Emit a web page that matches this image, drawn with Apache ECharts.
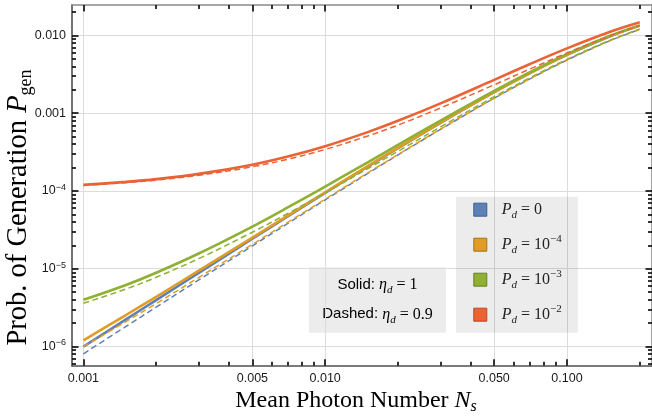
<!DOCTYPE html>
<html><head><meta charset="utf-8">
<script src="https://cdn.jsdelivr.net/npm/echarts@6/dist/echarts.min.js"></script>
<style>html,body{margin:0;padding:0;background:#fff}#c{width:652px;height:418px}</style>
</head><body><div id="c"></div>
<script>
// ---- data ----
const xN = [0.001, 0.0015, 0.002, 0.003, 0.005, 0.007, 0.01, 0.015, 0.02, 0.03, 0.05, 0.07, 0.1, 0.15, 0.2];
const blueSolid   = [9.94e-7, 2.23e-6, 3.95e-6, 8.84e-6, 2.43e-5, 4.70e-5, 9.42e-5, 2.06e-4, 3.55e-4, 7.54e-4, 1.87e-3, 3.27e-3, 5.64e-3, 9.73e-3, 1.34e-2];
const blueDashed  = [8.06e-7, 1.81e-6, 3.21e-6, 7.17e-6, 1.97e-5, 3.82e-5, 7.68e-5, 1.68e-4, 2.91e-4, 6.21e-4, 1.56e-3, 2.75e-3, 4.83e-3, 8.53e-3, 1.20e-2];
const orangeSolid = [1.20e-6, 2.54e-6, 4.36e-6, 9.44e-6, 2.52e-5, 4.83e-5, 9.61e-5, 2.09e-4, 3.59e-4, 7.59e-4, 1.87e-3, 3.27e-3, 5.66e-3, 9.74e-3, 1.34e-2];
const orangeDashed= [9.95e-7, 2.09e-6, 3.57e-6, 7.71e-6, 2.06e-5, 3.95e-5, 7.85e-5, 1.71e-4, 2.94e-4, 6.26e-4, 1.56e-3, 2.76e-3, 4.84e-3, 8.54e-3, 1.20e-2];
const greenSolid  = [3.98e-6, 6.19e-6, 8.89e-6, 1.57e-5, 3.49e-5, 6.14e-5, 1.14e-4, 2.34e-4, 3.92e-4, 8.05e-4, 1.94e-3, 3.36e-3, 5.76e-3, 9.86e-3, 1.35e-2];
const greenDashed = [3.59e-6, 5.48e-6, 7.76e-6, 1.35e-5, 2.95e-5, 5.13e-5, 9.48e-5, 1.94e-4, 3.24e-4, 6.68e-4, 1.63e-3, 2.84e-3, 4.94e-3, 8.65e-3, 1.21e-2];
const redSolid    = [1.20e-4, 1.31e-4, 1.42e-4, 1.66e-4, 2.18e-4, 2.77e-4, 3.77e-4, 5.72e-4, 7.99e-4, 1.34e-3, 2.69e-3, 4.27e-3, 6.83e-3, 1.11e-2, 1.48e-2];
const redDashed   = [1.18e-4, 1.28e-4, 1.38e-4, 1.59e-4, 2.05e-4, 2.56e-4, 3.42e-4, 5.10e-4, 7.04e-4, 1.17e-3, 2.32e-3, 3.69e-3, 5.96e-3, 9.84e-3, 1.34e-2];

const xMajor = [0.001, 0.005, 0.01, 0.05, 0.1];
const xMinor = [0.002, 0.003, 0.004, 0.006, 0.007, 0.008, 0.009, 0.02, 0.03, 0.04, 0.06, 0.07, 0.08, 0.09, 0.2];
const yMajor = [1e-6, 1e-5, 1e-4, 1e-3, 1e-2];
const yMinor = [6e-7, 7e-7, 8e-7, 9e-7,
  2e-6, 3e-6, 4e-6, 5e-6, 6e-6, 7e-6, 8e-6, 9e-6,
  2e-5, 3e-5, 4e-5, 5e-5, 6e-5, 7e-5, 8e-5, 9e-5,
  2e-4, 3e-4, 4e-4, 5e-4, 6e-4, 7e-4, 8e-4, 9e-4,
  2e-3, 3e-3, 4e-3, 5e-3, 6e-3, 7e-3, 8e-3, 9e-3, 2e-2];
const legendNames = ['Pd = 0', 'Pd = 1e-4', 'Pd = 1e-3', 'Pd = 1e-2'];
const legendExp = ['', '−4', '−3', '−2'];

const X_MIN = 8.97e-4, X_MAX = 0.2248, Y_MIN = 5.66e-7, Y_MAX = 0.02468;
const COLORS = ['#5E81B5', '#E09C24', '#8FB032', '#EB6235'];
const BORDERS = ['#3d5f93', '#a5721a', '#67822a', '#b5462a'];

const chart = echarts.init(document.getElementById('c'), null, {renderer: 'canvas'});
const SANS = 'Liberation Sans';
const SERIF = 'Liberation Serif';
const gridRect = {left: 72, top: 5, right: -3, bottom: 52.3, containLabel: false};

function xAxisDef(grid, pos, major, showLine, labels, split) {
  return {
    gridIndex: grid, type: 'log', logBase: 10, position: pos, min: X_MIN, max: X_MAX,
    axisLine: {show: showLine, onZero: false, lineStyle: {color: pos === 'bottom' ? '#505050' : '#8a8a8a', width: 1.6}},
    axisTick: {show: true, inside: true, length: major ? 6.5 : 4, customValues: major ? xMajor : xMinor,
      lineStyle: {color: '#111', width: 1.7}},
    axisLabel: labels ? {show: true, customValues: xMajor, margin: 6, color: '#1a1a1a', fontFamily: SANS, fontSize: 12.5,
      formatter: v => Number(v).toFixed(3)} : {show: false},
    splitLine: {show: split, lineStyle: {color: '#dcdcdc', width: 1}},
    minorTick: {show: false}, minorSplitLine: {show: false}
  };
}
function yAxisDef(grid, pos, major, showLine, labels, split) {
  return {
    gridIndex: grid, type: 'log', logBase: 10, position: pos, min: Y_MIN, max: Y_MAX,
    axisLine: {show: showLine, onZero: false, lineStyle: {color: pos === 'left' ? '#505050' : '#8a8a8a', width: 1.6}},
    axisTick: {show: true, inside: true, length: major ? 6.5 : 4, customValues: major ? yMajor : yMinor,
      lineStyle: {color: '#111', width: 1.7}},
    axisLabel: labels ? {show: true, customValues: yMajor, margin: 6, color: '#1a1a1a', fontFamily: SANS, fontSize: 12.5,
      formatter: v => {
        const e = Math.round(Math.log10(v));
        if (e >= -3) return Number(v).toFixed(3);
        return '{b|10}{s|−' + (-e) + '}';
      },
      rich: {b: {fontFamily: SANS, fontSize: 12.5, lineHeight: 16, color: '#1a1a1a'},
             s: {fontFamily: SANS, fontSize: 9, lineHeight: 9, verticalAlign: 'top', color: '#1a1a1a'}}} : {show: false},
    splitLine: {show: split, lineStyle: {color: '#dcdcdc', width: 1}},
    minorTick: {show: false}, minorSplitLine: {show: false}
  };
}

function pairs(ys) { return xN.map((x, i) => [x, ys[i]]); }
const seriesDefs = [
  [legendNames[0], blueSolid, 0, false],
  [legendNames[1], orangeSolid, 1, false],
  [legendNames[2], greenSolid, 2, false],
  [legendNames[3], redSolid, 3, false],
  ['dash0', blueDashed, 0, true],
  ['dash1', orangeDashed, 1, true],
  ['dash2', greenDashed, 2, true],
  ['dash3', redDashed, 3, true]
];
const series = seriesDefs.map(([name, ys, ci, dashed], k) => ({
  type: 'line', name: name, xAxisIndex: 0, yAxisIndex: 0, data: pairs(ys),
  showSymbol: false, symbol: 'none', smooth: 0.35, silent: true, z: 2 + k * 0.01,
  itemStyle: {color: COLORS[ci]},
  lineStyle: dashed ? {color: COLORS[ci], width: 1.5, type: [6, 3.5]} : {color: COLORS[ci], width: 2.6}
}));

const legendRich = {
  p: {fontFamily: SERIF, fontStyle: 'italic', fontSize: 16, lineHeight: 22, color: '#222', padding: [0, 0, 0, 10]},
  d: {fontFamily: SERIF, fontStyle: 'italic', fontSize: 11, lineHeight: 13, verticalAlign: 'bottom', color: '#222'},
  e: {fontFamily: SERIF, fontSize: 16, lineHeight: 22, color: '#222'},
  u: {fontFamily: SERIF, fontSize: 11, lineHeight: 11, verticalAlign: 'top', color: '#222'}
};

const boxRich = {
  t: {fontFamily: SANS, fontSize: 15, lineHeight: 22, color: '#222'},
  m: {fontFamily: SERIF, fontStyle: 'italic', fontSize: 16, lineHeight: 22, color: '#222'},
  s: {fontFamily: SERIF, fontStyle: 'italic', fontSize: 11, lineHeight: 13, verticalAlign: 'bottom', color: '#222'},
  r: {fontFamily: SERIF, fontSize: 16, lineHeight: 22, color: '#222'}
};

chart.setOption({
  animation: false,
  grid: [Object.assign({}, gridRect), Object.assign({}, gridRect)],
  xAxis: [
    xAxisDef(0, 'bottom', true, true, true, true),
    xAxisDef(0, 'top', true, true, false, false),
    xAxisDef(1, 'bottom', false, false, false, false),
    xAxisDef(1, 'top', false, false, false, false)
  ],
  yAxis: [
    yAxisDef(0, 'left', true, true, true, true),
    yAxisDef(0, 'right', true, true, false, false),
    yAxisDef(1, 'left', false, false, false, false),
    yAxisDef(1, 'right', false, false, false, false)
  ],
  legend: {
    show: true, orient: 'vertical', left: 456, top: 196.7, selectedMode: false,
    padding: [5, 16, 7, 17.3], itemGap: 13, itemWidth: 13, itemHeight: 13,
    backgroundColor: 'rgba(0,0,0,0.075)',
    data: legendNames.map((n, i) => ({name: n, icon: 'rect',
      itemStyle: {color: COLORS[i], borderColor: BORDERS[i], borderWidth: 1}})),
    formatter: name => {
      const i = legendNames.indexOf(name);
      return i === 0 ? '{p|P}{d|d}{e| = 0}' : '{p|P}{d|d}{e| = 10}{u|' + legendExp[i] + '}';
    },
    textStyle: {rich: legendRich}
  },
  graphic: {elements: [
    {type: 'rect', shape: {x: 309, y: 267.3, width: 137, height: 65.4}, style: {fill: 'rgba(0,0,0,0.075)'}, silent: true},
    {type: 'text', x: 377.5, y: 285, silent: true,
      style: {text: '{t|Solid: }{m|η}{s|d}{r| = 1}', rich: boxRich, align: 'center', verticalAlign: 'middle'}},
    {type: 'text', x: 377.5, y: 314.3, silent: true,
      style: {text: '{t|Dashed: }{m|η}{s|d}{r| = 0.9}', rich: boxRich, align: 'center', verticalAlign: 'middle'}},
    {type: 'text', x: 356, y: 401, silent: true,
      style: {text: '{r|Mean Photon Number }{i|N}{s|s}', align: 'center', verticalAlign: 'middle',
        rich: {r: {fontFamily: SERIF, fontSize: 24, lineHeight: 28, color: '#222'},
               i: {fontFamily: SERIF, fontStyle: 'italic', fontSize: 24, lineHeight: 28, color: '#222'},
               s: {fontFamily: SERIF, fontStyle: 'italic', fontSize: 16, lineHeight: 16, verticalAlign: 'bottom', color: '#222'}}}},
    {type: 'text', x: 19, y: 207.5, rotation: Math.PI / 2, silent: true,
      style: {text: '{r|Prob. of Generation }{i|P}{s|gen}', align: 'center', verticalAlign: 'middle',
        rich: {r: {fontFamily: SERIF, fontSize: 28.5, lineHeight: 32, color: '#222'},
               i: {fontFamily: SERIF, fontStyle: 'italic', fontSize: 28.5, lineHeight: 32, color: '#222'},
               s: {fontFamily: SERIF, fontSize: 18, lineHeight: 18, verticalAlign: 'bottom', color: '#222'}}}}
  ]},
  series: series
});
</script></body></html>
